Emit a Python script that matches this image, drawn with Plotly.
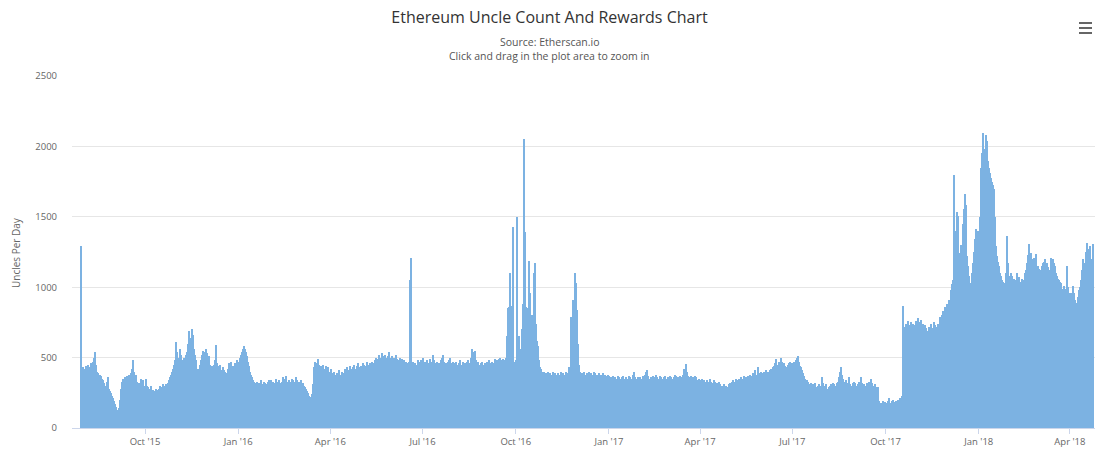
import pandas as pd
import plotly.graph_objects as go

# Daily uncle counts, one list per month
jul15 = [1290, 350]
aug15 = [430,390,420,440,410,450,430,400,460,420,470,500,540,450,400,390,380,380,370,350,340,320,300,330,360,280,260,250,230,210,190]
sep15 = [170,150,130,115,140,200,280,330,350,340,360,350,370,340,380,360,390,420,480,400,370,380,330,300,320,290,350,320,340,300]
oct15 = [280,350,300,290,280,270,300,260,270,250,260,280,270,260,280,300,270,290,310,300,290,310,300,320,340,360,380,400,420,450,480]
nov15 = [610,540,500,470,560,520,480,500,460,520,540,600,690,640,580,700,660,560,520,480,420,380,420,450,480,520,550,540,500,560]
dec15 = [530,480,510,450,430,440,420,450,480,590,460,440,420,450,410,400,430,410,400,390,380,420,460,400,470,420,440,390,460,420,480]
jan16 = [440,470,500,520,540,560,580,560,540,510,470,440,400,380,360,340,330,320,310,330,300,320,340,310,300,330,320,290,310,330,340]
feb16 = [320,340,310,330,300,320,350,330,310,340,320,300,330,360,350,340,370,330,320,340,310,330,350,340,320,330,360,340,320]
mar16 = [330,320,340,310,320,300,290,280,260,250,230,220,200,240,310,430,470,440,460,490,450,420,440,410,450,420,400,440,410,430,400]
apr16 = [380,420,390,370,400,380,360,390,410,380,370,400,380,390,420,400,430,410,390,440,420,400,430,450,420,410,440,460,430,420]
may16 = [440,430,460,450,420,440,470,450,430,460,440,470,450,460,480,500,470,490,520,480,500,530,510,490,520,500,480,510,540,500,490]
jun16 = [510,480,500,470,520,490,460,480,500,470,490,460,480,450,470,440,460,470,1050,1210,460,470,440,460,450,480,470,450,480,460]
jul16 = [500,460,470,440,480,450,460,490,470,450,520,480,460,440,470,450,460,430,480,500,520,470,450,460,440,470,480,500,460,450,470]
aug16 = [460,440,470,450,430,460,480,450,440,470,450,460,440,470,480,460,450,500,560,540,500,550,480,460,470,450,440,460,470,450,440]
sep16 = [460,450,470,440,480,460,450,470,460,490,470,480,460,490,500,470,480,490,470,480,500,650,850,860,1100,840,870,1425,470,460]
oct16 = [480,1500,640,650,500,560,700,880,2050,1390,860,790,850,1185,960,740,800,720,1100,1170,740,620,580,480,430,420,400,380,400,370,390]
nov16 = [380,400,370,390,360,380,400,370,390,380,360,390,370,380,400,370,390,360,380,400,390,370,430,400,790,910,860,1100,1030,840]
dec16 = [600,450,400,380,390,370,400,380,360,390,380,400,370,390,360,380,400,390,370,380,360,390,370,380,360,390,370,380,350,370,380]
jan17 = [370,350,360,340,370,350,360,340,350,370,360,340,350,360,370,340,350,360,340,350,370,360,340,350,380,400,360,350,340,360,350]
feb17 = [360,340,350,370,360,380,400,410,370,350,360,340,370,360,350,380,360,340,350,370,360,350,340,360,370,350,340,360]
mar17 = [350,370,360,340,350,360,380,370,350,360,340,370,360,350,380,420,390,456,400,370,360,350,370,340,360,350,370,360,340,330,350]
apr17 = [340,330,350,320,340,330,310,340,330,320,350,330,310,320,340,330,300,320,310,330,310,300,290,300,310,280,300,290,310,320]
may17 = [320,330,340,330,320,350,340,330,350,340,360,340,350,370,350,360,340,370,360,380,360,370,390,370,410,380,370,430,390,380,400]
jun17 = [390,380,400,390,410,380,400,390,410,420,400,430,440,460,490,450,430,470,440,500,470,450,460,440,430,420,450,460,470,440]
jul17 = [460,440,470,450,480,500,510,470,440,430,410,390,370,350,340,330,310,300,320,290,310,300,320,290,280,300,310,290,300,360,320]
aug17 = [300,290,310,280,270,290,300,310,290,320,310,300,290,320,330,360,400,430,380,350,330,310,340,320,300,360,310,290,300,320,330]
sep17 = [320,300,290,310,330,300,360,320,290,310,300,280,320,300,330,310,348,320,300,290,310,290,280,290,190,170,180,175,190,185]
oct17 = [180,170,190,216,180,170,190,200,185,175,190,180,200,190,210,195,228,864,720,700,740,720,760,730,700,750,720,740,710,730,760]
nov17 = [760,780,750,740,770,720,740,700,730,710,690,680,720,650,740,710,700,754,730,700,720,740,710,790,760,800,830,810,862,840]
dec17 = [880,860,910,890,980,1020,1050,1796,1293,1400,1533,1509,1245,1100,1300,1450,1557,1665,1581,1221,1150,1080,1006,1030,1100,1173,1250,1341,1413,1330,1400]
jan18 = [1400,1500,1845,1950,2096,1940,1980,2084,2036,1893,1845,1810,1773,1750,1725,1700,1500,1293,1221,1180,1149,1101,1080,1053,1040,1030,1030,1100,1365,1173,1077]
feb18 = [1030,1101,1080,1030,1060,1040,1050,1100,1020,1070,1040,1000,1060,1030,1050,1100,1120,1173,1230,1305,1221,1240,1200,1197,1210,1180,1233,1150]
mar18 = [1150,1130,1125,1150,1173,1180,1197,1160,1173,1140,1125,1100,1209,1190,1197,1170,1149,1100,1077,1060,1053,1040,1030,990,982,1006,990,982,1149,1000,960]
apr18 = [910,958,940,1006,960,910,890,886,930,982,1000,1050,1125,1197,1160,1173,1250,1317,1269,1230,1293,1200,1173,1305]

month_starts = ["2015-07-30", "2015-08-01", "2015-09-01", "2015-10-01", "2015-11-01", "2015-12-01",
                "2016-01-01", "2016-02-01", "2016-03-01", "2016-04-01", "2016-05-01", "2016-06-01",
                "2016-07-01", "2016-08-01", "2016-09-01", "2016-10-01", "2016-11-01", "2016-12-01",
                "2017-01-01", "2017-02-01", "2017-03-01", "2017-04-01", "2017-05-01", "2017-06-01",
                "2017-07-01", "2017-08-01", "2017-09-01", "2017-10-01", "2017-11-01", "2017-12-01",
                "2018-01-01", "2018-02-01", "2018-03-01", "2018-04-01"]
month_values = [jul15, aug15, sep15, oct15, nov15, dec15, jan16, feb16, mar16, apr16, may16, jun16,
                jul16, aug16, sep16, oct16, nov16, dec16, jan17, feb17, mar17, apr17, may17, jun17,
                jul17, aug17, sep17, oct17, nov17, dec17, jan18, feb18, mar18, apr18]

tick_dates = ["2015-10-01", "2016-01-01", "2016-04-01", "2016-07-01", "2016-10-01", "2017-01-01",
              "2017-04-01", "2017-07-01", "2017-10-01", "2018-01-01", "2018-04-01"]
tick_labels = ["Oct '15", "Jan '16", "Apr '16", "Jul '16", "Oct '16", "Jan '17",
               "Apr '17", "Jul '17", "Oct '17", "Jan '18", "Apr '18"]
y_ticks = [0, 500, 1000, 1500, 2000, 2500]

dates, values = [], []
for start, vals in zip(month_starts, month_values):
    d = pd.date_range(start, periods=len(vals), freq="D")
    dates.extend(d)
    values.extend(vals)

FONT = "Open Sans, DejaVu Sans, sans-serif"
L, T, W, H = 72, 76, 1023, 352  # plot area in pixels


def px(x):
    return (x - L) / W


def py(y):
    return (T + H - y) / H


fig = go.Figure(go.Bar(
    x=dates, y=values,
    marker=dict(color="#7cb2e2", line=dict(width=0)),
    name="Uncles Per Day",
))

fig.update_layout(
    width=1099, height=451,
    margin=dict(l=L, r=1099 - L - W, t=T, b=451 - T - H),
    paper_bgcolor="white", plot_bgcolor="white",
    bargap=0,
    showlegend=False,
    font=dict(family=FONT, color="#666666"),
    title=dict(text="Ethereum Uncle Count And Rewards Chart", x=0.5, xanchor="center",
               y=1 - 17 / 451, yanchor="middle",
               font=dict(family=FONT, size=16, color="#333333")),
)

fig.add_annotation(text="Source: Etherscan.io", xref="paper", yref="paper",
                   x=px(549), y=py(42), showarrow=False,
                   font=dict(size=10.5, color="#555555"), xanchor="center", yanchor="middle")
fig.add_annotation(text="Click and drag in the plot area to zoom in", xref="paper", yref="paper",
                   x=px(549), y=py(56), showarrow=False,
                   font=dict(size=10.5, color="#555555"), xanchor="center", yanchor="middle")
fig.add_annotation(text="Uncles Per Day", xref="paper", yref="paper",
                   x=px(16), y=py(253), showarrow=False, textangle=-90,
                   font=dict(size=10, color="#666666"), xanchor="center", yanchor="middle")
# hamburger menu icon
for yy in (23, 28, 33):
    fig.add_shape(type="line", xref="paper", yref="paper",
                  x0=px(1079), x1=px(1092), y0=py(yy), y1=py(yy),
                  line=dict(color="#666666", width=2))

fig.update_xaxes(
    type="date",
    range=["2015-07-20 22:00", "2018-04-25 19:00"],
    tickvals=tick_dates, ticktext=tick_labels,
    tickfont=dict(size=9.5, color="#666666"),
    ticks="outside", ticklen=5, tickcolor="#ccd6eb",
    showline=True, linecolor="#ccd6eb", linewidth=1,
    showgrid=False, zeroline=False,
)
fig.update_yaxes(
    range=[0, 2500],
    tickvals=y_ticks,
    tickfont=dict(size=9.5, color="#666666"),
    showgrid=True, gridcolor="#e6e6e6", gridwidth=1,
    zeroline=False, showline=False,
    ticks="", ticklabelstandoff=14,
)

fig.write_html("out.html", config={"displayModeBar": False},
               post_script="document.body.style.margin='0';")
